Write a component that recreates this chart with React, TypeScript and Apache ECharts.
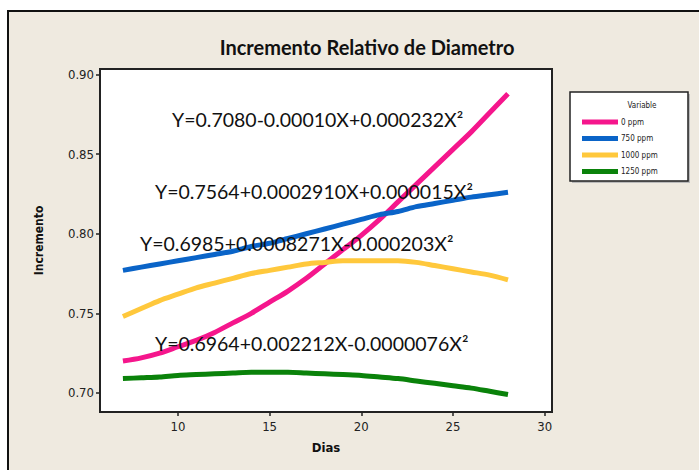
import React, { useEffect, useRef } from "react";
import * as echarts from "echarts";

const days = [7, 8, 9, 10, 11, 12, 13, 14, 15, 16, 17, 18, 19, 20, 21, 22, 23, 24, 25, 26, 27, 28];
const ppm0 = [0.72, 0.722, 0.725, 0.729, 0.733, 0.738, 0.744, 0.75, 0.757, 0.764, 0.772, 0.781, 0.79, 0.799, 0.809, 0.82, 0.831, 0.842, 0.853, 0.864, 0.876, 0.888];
const ppm750 = [0.777, 0.779, 0.781, 0.783, 0.785, 0.787, 0.789, 0.792, 0.794, 0.797, 0.8, 0.803, 0.806, 0.809, 0.812, 0.814, 0.817, 0.819, 0.821, 0.823, 0.8245, 0.826];
const ppm1000 = [0.748, 0.753, 0.758, 0.762, 0.766, 0.769, 0.772, 0.775, 0.777, 0.779, 0.781, 0.782, 0.783, 0.783, 0.783, 0.783, 0.782, 0.78, 0.778, 0.776, 0.774, 0.771];
const ppm1250 = [0.709, 0.7095, 0.71, 0.711, 0.7115, 0.712, 0.7125, 0.713, 0.713, 0.713, 0.7125, 0.712, 0.7115, 0.711, 0.71, 0.709, 0.7075, 0.706, 0.7045, 0.703, 0.701, 0.699];
const seriesNames = ["0 ppm", "750 ppm", "1000 ppm", "1250 ppm"];
const seriesColors = ["#F5168C", "#0A64C8", "#FFC83C", "#0A820A"];
const xTicks = [10, 15, 20, 25, 30];
const yTicks = [0.7, 0.75, 0.8, 0.85, 0.9];
const equations = [
  "Y=0.7080-0.00010X+0.000232X²",
  "Y=0.7564+0.0002910X+0.000015X²",
  "Y=0.6985+0.0008271X-0.000203X²",
  "Y=0.6964+0.002212X-0.0000076X²",
];

export default function App() {
  const ref = useRef<HTMLDivElement>(null);
  useEffect(() => {
    if (!ref.current) return;
    const chart = echarts.init(ref.current, null, { renderer: "svg" });
    const all = [ppm0, ppm750, ppm1000, ppm1250];
    const eqPos = [
      [172, 119],
      [155, 191],
      [140, 243],
      [155, 343],
    ];
    chart.setOption({
      animation: false,
      title: {
        text: "Incremento Relativo de Diametro",
        left: 362,
        top: 32,
        textAlign: "center",
        textStyle: { fontFamily: "Lato", fontSize: 20, fontWeight: "bold", color: "#111" },
      },
      grid: {
        left: 100,
        top: 69,
        right: 147,
        bottom: 58,
        show: true,
        backgroundColor: "#ffffff",
        borderColor: "#222",
        borderWidth: 2,
      },
      legend: {
        orient: "vertical",
        left: 577,
        top: 113,
        itemWidth: 36,
        itemHeight: 5,
        itemGap: 8.5,
        icon: "rect",
        data: seriesNames,
        textStyle: { fontFamily: "DejaVu Sans Condensed", fontSize: 8, color: "#222", padding: [0, 0, 0, -2] },
      },
      xAxis: {
        type: "value",
        min: 5.75,
        max: 30.4,
        name: "Dias",
        nameLocation: "middle",
        nameGap: 29,
        nameTextStyle: { fontFamily: "DejaVu Sans Condensed", fontSize: 13, fontWeight: "bold", color: "#111" },
        splitLine: { show: false },
        axisLine: { show: false },
        axisTick: { show: true, customValues: xTicks, length: 4, lineStyle: { color: "#222", width: 1.5 } },
        axisLabel: {
          customValues: xTicks,
          fontFamily: "DejaVu Sans Condensed",
          fontSize: 13,
          color: "#222",
          margin: 8,
        },
      },
      yAxis: {
        type: "value",
        min: 0.688,
        max: 0.9035,
        name: "Incremento",
        nameLocation: "middle",
        nameGap: 55,
        nameTextStyle: { fontFamily: "DejaVu Sans Condensed", fontSize: 12, fontWeight: "bold", color: "#111" },
        splitLine: { show: false },
        axisLine: { show: false },
        axisTick: { show: true, customValues: yTicks, length: 4, lineStyle: { color: "#222", width: 1.5 } },
        axisLabel: {
          customValues: yTicks,
          formatter: (v: number) => v.toFixed(2),
          fontFamily: "DejaVu Sans Condensed",
          fontSize: 13,
          color: "#222",
          margin: 6,
        },
      },
      graphic: [
        {
          type: "rect",
          shape: { x: 572, y: 94, width: 118, height: 89 },
          style: { fill: "#bbb" },
        },
        {
          type: "rect",
          shape: { x: 570, y: 92, width: 118, height: 89 },
          style: { fill: "#fff", stroke: "#222", lineWidth: 1.5 },
        },
        {
          type: "text",
          x: 642,
          y: 105,
          style: {
            text: "Variable",
            fontFamily: "DejaVu Sans Condensed",
            fontSize: 8,
            fill: "#222",
            align: "center",
            verticalAlign: "middle",
          },
        },
        ...equations.map((t, i) => ({
          type: "text",
          x: eqPos[i][0],
          y: eqPos[i][1],
          z: 10,
          style: {
            text: t,
            fontFamily: "Lato",
            fontSize: 19.5,
            fill: "#111",
            align: "left",
            verticalAlign: "middle",
          },
        })),
      ],
      series: seriesNames.map((n, i) => ({
        name: n,
        type: "line",
        smooth: 0.3,
        symbol: "none",
        color: seriesColors[i],
        lineStyle: { width: 5, color: seriesColors[i], join: "round" },
        data: days.map((d, j) => [d, all[i][j]]),
      })),
    });
    return () => chart.dispose();
  }, []);
  return (
    <div style={{ position: "fixed", left: 0, top: 0, width: 699, height: 470, background: "#fff" }}>
      <div
        style={{
          position: "absolute",
          left: 7,
          top: 10,
          width: 700,
          height: 470,
          background: "#EFEAE0",
          borderLeft: "2px solid #111",
          borderTop: "2px solid #111",
        }}
      />
      <div ref={ref} style={{ position: "absolute", left: 0, top: 0, width: 699, height: 470 }} />
    </div>
  );
}
